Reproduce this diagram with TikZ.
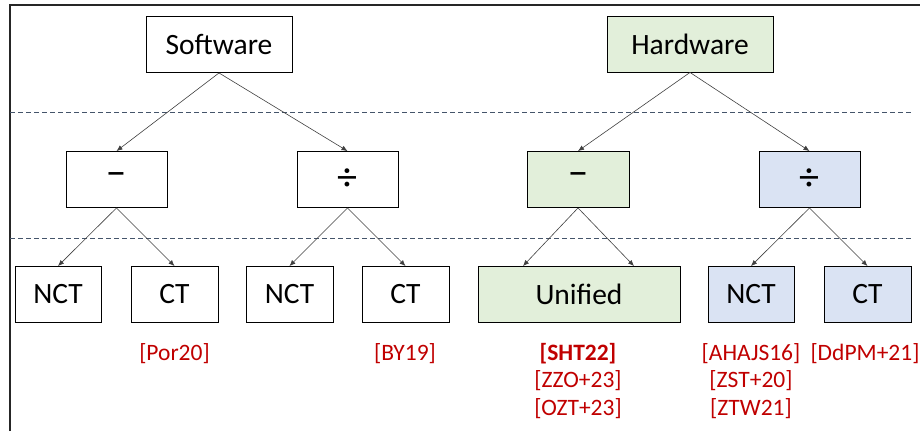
\documentclass[tikz,border=0pt]{standalone}
\usepackage{fontspec}
\setmainfont{Carlito}
\usetikzlibrary{arrows.meta}
\definecolor{refred}{RGB}{192,0,0}
\definecolor{hwgreen}{RGB}{226,239,218}
\definecolor{hwblue}{RGB}{218,227,243}
\definecolor{sepline}{RGB}{68,84,106}
\tikzset{
  box/.style={draw=black, line width=0.9pt, fill=white, inner sep=0pt,
              minimum height=56pt, font=\fontsize{29.5}{35}\selectfont},
  greenbox/.style={box, fill=hwgreen},
  bluebox/.style={box, fill=hwblue},
  opsym/.style={font=\fontsize{40}{44}\selectfont},
  link/.style={draw=black!75, line width=0.6pt,
               -{Latex[length=6pt,width=5pt]}},
  ref/.style={text=refred, align=center, inner sep=0pt,
              font=\fontsize{23.5}{27.5}\selectfont},
  level/.style={draw=sepline, line width=0.6pt, dash pattern=on 5pt off 3pt},
  frame/.style={draw=black!85, line width=2pt}
}
\begin{document}
\begin{tikzpicture}[x=1pt, y=-1pt]
  \useasboundingbox (0,0) rectangle (920,431);

  % outer frame (top and left edges)
  \draw[frame] (10,431) -- (10,5) -- (920,5);

  % level separators
  \draw[level] (10,112) -- (913,112);
  \draw[level] (10,238) -- (913,238);

  % roots
  \node[box, minimum width=146pt] (sw) at (219,44.5) {Software};
  \node[greenbox, minimum width=166pt] (hw) at (690,44) {Hardware};

  % operations
  \node[box, opsym, minimum width=101pt] (sm) at (116.5,179.5) {−};
  \node[box, opsym, minimum width=101pt] (sd) at (347.5,179.5) {÷};
  \node[greenbox, opsym, minimum width=102pt] (hm) at (578,179.5) {−};
  \node[bluebox, opsym, minimum width=101pt] (hd) at (809.5,179.5) {÷};

  % implementations
  \node[box, minimum width=86pt] (n1) at (58,294.5) {NCT};
  \node[box, minimum width=87pt] (c1) at (174.5,294.5) {CT};
  \node[box, minimum width=87pt] (n2) at (289.5,294.5) {NCT};
  \node[box, minimum width=87pt] (c2) at (405.5,294.5) {CT};
  \node[greenbox, minimum width=202pt] (un) at (579,294.5) {Unified};
  \node[bluebox, minimum width=86pt] (n3) at (751,294.5) {NCT};
  \node[bluebox, minimum width=87pt] (c3) at (867.5,294.5) {CT};

  \coordinate (unL) at ([xshift=-56pt]un.north);
  \coordinate (unR) at ([xshift=55pt]un.north);

  % connectors
  \draw[link] (sw.south) -- (sm.north);
  \draw[link] (sw.south) -- (sd.north);
  \draw[link] (hw.south) -- (hm.north);
  \draw[link] (hw.south) -- (hd.north);
  \draw[link] (sm.south) -- (n1.north);
  \draw[link] (sm.south) -- (c1.north);
  \draw[link] (sd.south) -- (n2.north);
  \draw[link] (sd.south) -- (c2.north);
  \draw[link] (hm.south) -- (unL);
  \draw[link] (hm.south) -- (unR);
  \draw[link] (hd.south) -- (n3.north);
  \draw[link] (hd.south) -- (c3.north);

  % references
  \node[ref] (r1) at (174.5,354) {[Por20]};
  \node[ref] (r2) at (405,354) {[BY19]};
  \node[ref] (r3) at (578,381) {\textbf{[SHT22]}\\{}[ZZO+23]\\{}[OZT+23]};
  \node[ref] (r4) at (751,381) {[AHAJS16]\\{}[ZST+20]\\{}[ZTW21]};
  \node[ref] (r5) at (865,354) {[DdPM+21]};
\end{tikzpicture}
\end{document}
